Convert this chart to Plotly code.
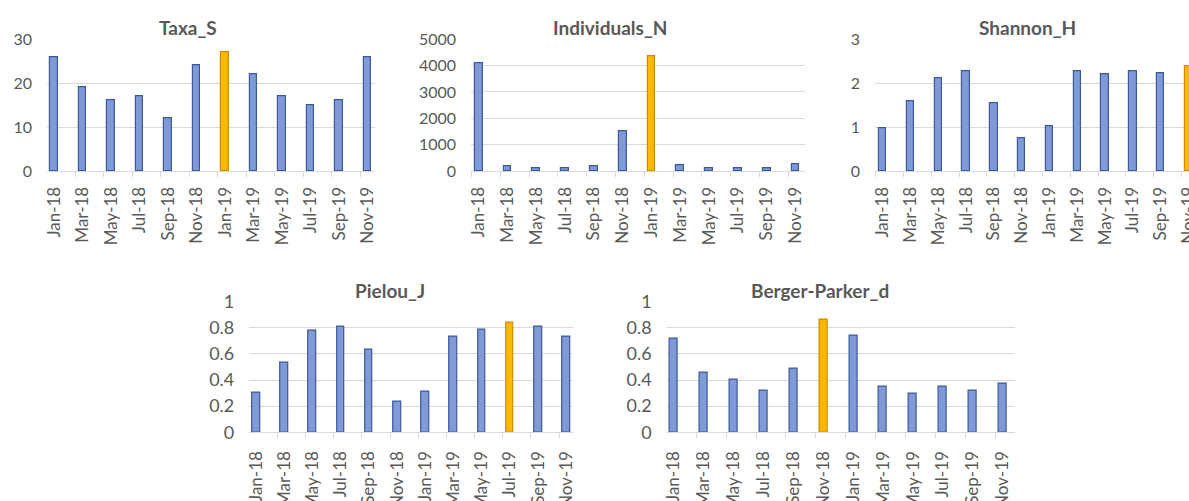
import plotly.graph_objects as go

# Sampling months (shared by all panels)
months = ["Jan-18", "Mar-18", "May-18", "Jul-18", "Sep-18", "Nov-18",
          "Jan-19", "Mar-19", "May-19", "Jul-19", "Sep-19", "Nov-19"]

# Diversity indices, one list per panel
taxa_s = [26, 19, 16, 17, 12, 24, 27, 22, 17, 15, 16, 26]
individuals_n = [4100, 170, 100, 100, 170, 1520, 4340, 220, 100, 90, 90, 260]
shannon_h = [0.97, 1.58, 2.11, 2.28, 1.55, 0.74, 1.01, 2.26, 2.21, 2.26, 2.23, 2.38]
pielou_j = [0.30, 0.536, 0.776, 0.806, 0.635, 0.237, 0.311, 0.735, 0.783, 0.842, 0.806, 0.735]
berger_parker_d = [0.717, 0.459, 0.403, 0.322, 0.485, 0.865, 0.740, 0.347, 0.296, 0.347, 0.322, 0.37]

# Month highlighted in orange for each panel
highlight = {
    "Taxa_S": "Jan-19",
    "Individuals_N": "Jan-19",
    "Shannon_H": "Nov-19",
    "Pielou_J": "Jul-19",
    "Berger-Parker_d": "Nov-18",
}

W, H = 1189, 501
BLUE = "#7f9ad6"
BLUE_LINE = "#3b5a9a"
ORANGE = "#ffb800"
ORANGE_LINE = "#c98d00"
GRID = "#d9d9d9"
TEXT = "#595959"
FONT = "Lato, Open Sans, sans-serif"


def px_x(v):
    return v / W


def px_y(v):
    return 1 - v / H


# panel: (title, values, x px left/right, y px top/bottom, x range, y max, dtick, title x px, ytick size)
panels = [
    ("Taxa_S", taxa_s, (47, 375), (39.3, 171), (-0.245, 11.26), 30, 10, 188, 16),
    ("Individuals_N", individuals_n, (471, 805), (39.3, 171), (-0.27, 11.33), 5000, 1000, 610, 16),
    ("Shannon_H", shannon_h, (875, 1189), (39.3, 171), (-0.277, 11.02), 3, 1, 1027, 16),
    ("Pielou_J", pielou_j, (249.3, 573), (301.7, 432.3), (-0.24, 11.24), 1, 0.2, 390, 18),
    ("Berger-Parker_d", berger_parker_d, (666.7, 1015), (301.7, 432.3), (-0.24, 11.41), 1, 0.2, 820, 18),
]

fig = go.Figure()
xs = list(range(len(months)))

for k, (title, vals, (xl, xr), (yt, yb), xrange, ymax, dtick, tx, ysize) in enumerate(panels, start=1):
    sfx = "" if k == 1 else str(k)
    hl = highlight[title]
    fig.add_trace(go.Bar(
        x=xs, y=vals, width=0.27,
        marker=dict(
            color=[ORANGE if m == hl else BLUE for m in months],
            line=dict(color=[ORANGE_LINE if m == hl else BLUE_LINE for m in months], width=1.2),
        ),
        xaxis="x" + sfx, yaxis="y" + sfx, showlegend=False,
    ))
    top_row = yb < 250
    fig.layout["xaxis" + sfx] = dict(
        domain=[px_x(xl), px_x(xr)], anchor="y" + sfx, automargin=False,
        range=list(xrange), tickmode="array", tickvals=xs, ticktext=months,
        tickangle=-90, ticks="", showgrid=False, zeroline=False,
        showline=True, linecolor=GRID, linewidth=1,
        ticklabelstandoff=8 if top_row else 11, ticklabeloverflow="allow",
        tickfont=dict(family=FONT, size=17, color=TEXT),
        minor=dict(tickmode="array", tickvals=[i - 0.25 for i in range(len(months) + 1)],
                   ticks="outside", ticklen=5, tickcolor=GRID, tickwidth=1, showgrid=False),
    )
    fig.layout["yaxis" + sfx] = dict(
        domain=[px_y(yb), px_y(yt)], anchor="x" + sfx, automargin=False,
        range=[0, ymax], dtick=dtick, tick0=0,
        showgrid=True, gridcolor=GRID, gridwidth=1, zeroline=False,
        showline=False, ticks="", ticklabelstandoff=14,
        tickfont=dict(family=FONT, size=ysize, color=TEXT),
    )
    fig.add_annotation(
        text="<b>%s</b>" % title, xref="paper", yref="paper",
        x=px_x(tx), y=px_y(yt - 11.5), xanchor="center", yanchor="middle",
        showarrow=False, font=dict(family=FONT, size=19, color=TEXT),
    )

fig.update_layout(
    width=W, height=H,
    margin=dict(l=0, r=0, t=0, b=0),
    paper_bgcolor="white", plot_bgcolor="white",
    bargap=0,
)

# figure fills the window exactly: drop the page margin and any scrollbars
fig.write_html(
    "out.html",
    config={"displayModeBar": False},
    post_script="document.body.style.margin='0';document.body.style.overflow='hidden';",
)
